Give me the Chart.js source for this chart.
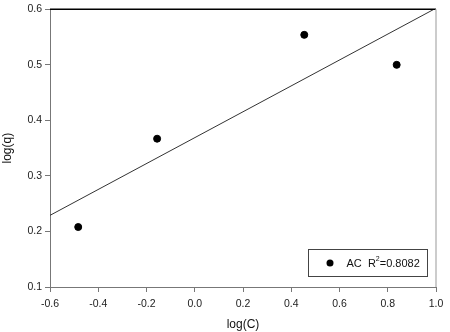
<!DOCTYPE html>
<html lang="en">
<head>
  <meta charset="UTF-8">
  <title>log(q) vs log(C)</title>
  <script src="https://cdn.jsdelivr.net/npm/chart.js"></script>
  <style>
    html, body { margin: 0; padding: 0; background: #fff; }
    .chart-container { width: 450px; height: 332px; }
  </style>
</head>
<body>
  <div class="chart-container">
    <canvas id="chartCanvas" width="450" height="332"></canvas>
  </div>
  <script>
    // data
    const logC = [-0.483, -0.156, 0.454, 0.837];
    const logQ = [0.208, 0.367, 0.554, 0.500];
    // fitted line end points
    const fitX = [-0.6, 1.0];
    const fitY = [0.229, 0.602];
    const xTicks = [-0.6, -0.4, -0.2, 0.0, 0.2, 0.4, 0.6, 0.8, 1.0];
    const yTicks = [0.1, 0.2, 0.3, 0.4, 0.5, 0.6];
    const seriesName = "AC";
    const r2Text = "0.8082";

    const FONT = "'Liberation Sans', Arial, sans-serif";

    // frame (top black, right light grey) + legend box inside the plot
    const framePlugin = {
      id: "frame",
      afterDraw(chart) {
        const ctx = chart.ctx;
        const a = chart.chartArea;
        ctx.save();
        ctx.lineWidth = 1.5;
        ctx.strokeStyle = "#000";
        ctx.beginPath();
        ctx.moveTo(a.left, a.top);
        ctx.lineTo(a.right, a.top);
        ctx.stroke();
        ctx.strokeStyle = "#bbb";
        ctx.beginPath();
        ctx.moveTo(a.right, a.top);
        ctx.lineTo(a.right, a.bottom);
        ctx.stroke();

        // legend
        const bx = 308.5, by = 249.5, bw = 119, bh = 27;
        ctx.lineWidth = 1;
        ctx.strokeStyle = "#444";
        ctx.strokeRect(bx, by, bw, bh);
        ctx.fillStyle = "#000";
        ctx.beginPath();
        ctx.arc(bx + 21.5, by + 13.5, 3.5, 0, Math.PI * 2);
        ctx.fill();
        ctx.font = "11px " + FONT;
        ctx.textBaseline = "middle";
        ctx.fillStyle = "#111";
        let tx = bx + 38;
        const ty = by + 14;
        const first = seriesName + "  R";
        ctx.fillText(first, tx, ty);
        tx += ctx.measureText(first).width;
        ctx.font = "7px " + FONT;
        ctx.fillText("2", tx, ty - 4);
        tx += ctx.measureText("2").width;
        ctx.font = "11px " + FONT;
        ctx.fillText("=" + r2Text, tx, ty);
        ctx.restore();
      }
    };

    const ctx = document.getElementById("chartCanvas").getContext("2d");
    new Chart(ctx, {
      type: "scatter",
      data: {
        datasets: [
          {
            label: seriesName,
            data: logC.map((x, i) => ({ x: x, y: logQ[i] })),
            backgroundColor: "#000",
            borderColor: "#000",
            pointRadius: 3.5,
            pointHoverRadius: 3.5
          },
          {
            label: "fit",
            type: "line",
            data: fitX.map((x, i) => ({ x: x, y: fitY[i] })),
            borderColor: "#333",
            borderWidth: 1,
            pointRadius: 0,
            fill: false,
            tension: 0
          }
        ]
      },
      options: {
        responsive: false,
        animation: false,
        devicePixelRatio: 1,
        layout: { padding: { top: 6, right: 14, left: 0, bottom: 0 } },
        plugins: {
          legend: { display: false },
          tooltip: { enabled: false }
        },
        scales: {
          x: {
            type: "linear",
            min: -0.6,
            max: 1.0,
            afterBuildTicks: (s) => { s.ticks = xTicks.map(v => ({ value: v })); },
            afterFit: (s) => { s.height = 45; },
            grid: { drawOnChartArea: false, drawTicks: true, tickLength: 5, color: "#777" },
            border: { color: "#777", width: 1 },
            ticks: {
              color: "#222",
              padding: 6,
              maxRotation: 0,
              font: { family: FONT, size: 10.5 },
              callback: (v) => Number(v).toFixed(1)
            },
            title: {
              display: true,
              text: "log(C)",
              color: "#111",
              padding: { top: 4, bottom: 0 },
              font: { family: FONT, size: 12 }
            }
          },
          y: {
            type: "linear",
            min: 0.1,
            max: 0.6,
            afterBuildTicks: (s) => { s.ticks = yTicks.map(v => ({ value: v })); },
            afterFit: (s) => { s.width = 50; },
            grid: { drawOnChartArea: false, drawTicks: true, tickLength: 5, color: "#777" },
            border: { color: "#777", width: 1 },
            ticks: {
              color: "#222",
              padding: 3,
              font: { family: FONT, size: 10.5 },
              callback: (v) => Number(v).toFixed(1)
            },
            title: {
              display: true,
              text: "log(q)",
              color: "#111",
              padding: { top: 0, bottom: 0 },
              font: { family: FONT, size: 12 }
            }
          }
        }
      },
      plugins: [framePlugin]
    });
  </script>
</body>
</html>
